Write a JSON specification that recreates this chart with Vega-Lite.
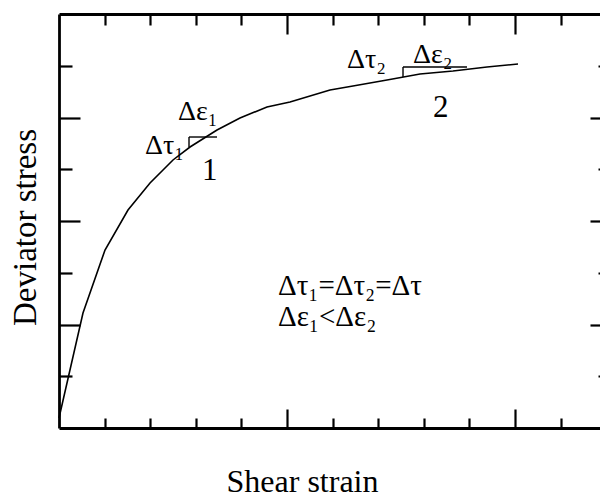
{
  "$schema": "https://vega.github.io/schema/vega-lite/v6.json",
  "width": 541,
  "height": 414,
  "autosize": {"type": "none"},
  "padding": {"left": 59, "top": 14, "right": 0, "bottom": 69},
  "background": "white",
  "config": {
    "view": {"stroke": null},
    "font": "Liberation Serif",
    "axis": {"domainColor": "black", "tickColor": "black", "titleColor": "black", "titleFont": "Liberation Serif", "titleFontWeight": "normal"}
  },
  "datasets": {
    "curve": [
      {"strain": 0, "stress": 0.193},
      {"strain": 0.526, "stress": 2.222},
      {"strain": 1.009, "stress": 3.44},
      {"strain": 1.513, "stress": 4.213},
      {"strain": 1.996, "stress": 4.734},
      {"strain": 2.281, "stress": 4.986},
      {"strain": 2.5, "stress": 5.179},
      {"strain": 2.873, "stress": 5.43},
      {"strain": 3.465, "stress": 5.758},
      {"strain": 3.969, "stress": 5.99},
      {"strain": 4.561, "stress": 6.203},
      {"strain": 5.066, "stress": 6.3},
      {"strain": 5.943, "stress": 6.531},
      {"strain": 6.447, "stress": 6.609},
      {"strain": 7.193, "stress": 6.725},
      {"strain": 7.917, "stress": 6.841},
      {"strain": 8.64, "stress": 6.899},
      {"strain": 9.386, "stress": 6.976},
      {"strain": 10.066, "stress": 7.034}
    ],
    "segs": [
      {"x1": 2.851, "x2": 3.465, "y1": 5.623, "y2": 5.623},
      {"x1": 2.851, "x2": 2.851, "y1": 5.623, "y2": 5.43},
      {"x1": 7.544, "x2": 7.544, "y1": 6.976, "y2": 6.783},
      {"x1": 7.544, "x2": 8.947, "y1": 6.976, "y2": 6.976}
    ],
    "small": [
      {"label": "Δε₁", "x": 2.61, "y": 5.952},
      {"label": "Δτ₁", "x": 1.886, "y": 5.295},
      {"label": "Δτ₂", "x": 6.316, "y": 6.957},
      {"label": "Δε₂", "x": 7.763, "y": 7.053}
    ],
    "digits": [
      {"label": "1", "x": 3.136, "y": 4.792},
      {"label": "2", "x": 8.202, "y": 6.01}
    ],
    "block": [
      {"label": "Δτ₁=Δτ₂=Δτ", "x": 4.803, "y": 2.57},
      {"label": "Δε₁<Δε₂", "x": 4.803, "y": 1.971}
    ]
  },
  "layer": [
    {
      "data": {"name": "curve"},
      "mark": {"type": "line", "color": "black", "strokeWidth": 1.6},
      "encoding": {
        "x": {
          "field": "strain", "type": "quantitative",
          "scale": {"domain": [0, 11.864], "nice": false, "zero": false},
          "axis": {
            "title": "Shear strain", "titleFontSize": 32, "titleX": 243, "titleY": 63,
            "titleAlign": "center", "titleBaseline": "alphabetic", "titleAnchor": null,
            "values": [1, 2, 3, 4, 5, 6, 7, 8, 9, 10, 11], "labels": false, "grid": false,
            "domainWidth": 2.8, "tickWidth": 2.2,
            "tickSize": {"condition": {"test": "datum.value % 5 === 0", "value": -19}, "value": -10}
          }
        },
        "y": {
          "field": "stress", "type": "quantitative",
          "scale": {"domain": [0, 8], "nice": false, "zero": false},
          "axis": {
            "title": "Deviator stress", "titleFontSize": 33, "titleX": -24, "titleY": 213,
            "titleAngle": -90, "titleAlign": "center", "titleBaseline": "alphabetic", "titleAnchor": null,
            "values": [1, 2, 3, 4, 5, 6, 7], "labels": false, "grid": false,
            "domainWidth": 2.8, "tickWidth": 2.2,
            "tickSize": {"condition": {"test": "datum.value % 2 === 0", "value": -21}, "value": -13}
          }
        }
      }
    },
    {
      "data": {"name": "curve"},
      "mark": {"type": "point", "opacity": 0},
      "encoding": {
        "x": {
          "field": "strain", "type": "quantitative",
          "axis": {
            "orient": "top", "title": null, "values": [1, 2, 3, 4, 5, 6, 7, 8, 9, 10, 11], "labels": false, "grid": false,
            "domainWidth": 2.8, "tickWidth": 2.2,
            "tickSize": {"condition": {"test": "datum.value % 5 === 0", "value": -20}, "value": -11}
          }
        },
        "y": {
          "field": "stress", "type": "quantitative",
          "axis": {
            "orient": "right", "title": null, "values": [1, 2, 3, 4, 5, 6, 7], "labels": false, "grid": false,
            "domain": false, "tickWidth": 2.2,
            "tickSize": {"condition": {"test": "datum.value % 2 === 0", "value": -10}, "value": -2}
          }
        }
      }
    },
    {
      "data": {"name": "segs"},
      "mark": {"type": "rule", "color": "black", "strokeWidth": 1.4},
      "encoding": {
        "x": {"field": "x1", "type": "quantitative", "axis": null},
        "x2": {"field": "x2"},
        "y": {"field": "y1", "type": "quantitative", "axis": null},
        "y2": {"field": "y2"}
      }
    },
    {
      "data": {"name": "small"},
      "mark": {"type": "text", "font": "Liberation Serif", "fontSize": 28, "align": "left", "baseline": "alphabetic", "color": "black"},
      "encoding": {
        "x": {"field": "x", "type": "quantitative", "axis": null},
        "y": {"field": "y", "type": "quantitative", "axis": null},
        "text": {"field": "label"}
      }
    },
    {
      "data": {"name": "digits"},
      "mark": {"type": "text", "font": "Liberation Serif", "fontSize": 31, "align": "left", "baseline": "alphabetic", "color": "black"},
      "encoding": {
        "x": {"field": "x", "type": "quantitative", "axis": null},
        "y": {"field": "y", "type": "quantitative", "axis": null},
        "text": {"field": "label"}
      }
    },
    {
      "data": {"name": "block"},
      "mark": {"type": "text", "font": "Liberation Serif", "fontSize": 29, "align": "left", "baseline": "alphabetic", "color": "black"},
      "encoding": {
        "x": {"field": "x", "type": "quantitative", "axis": null},
        "y": {"field": "y", "type": "quantitative", "axis": null},
        "text": {"field": "label"}
      }
    }
  ],
  "resolve": {"axis": {"x": "independent", "y": "independent"}}
}
